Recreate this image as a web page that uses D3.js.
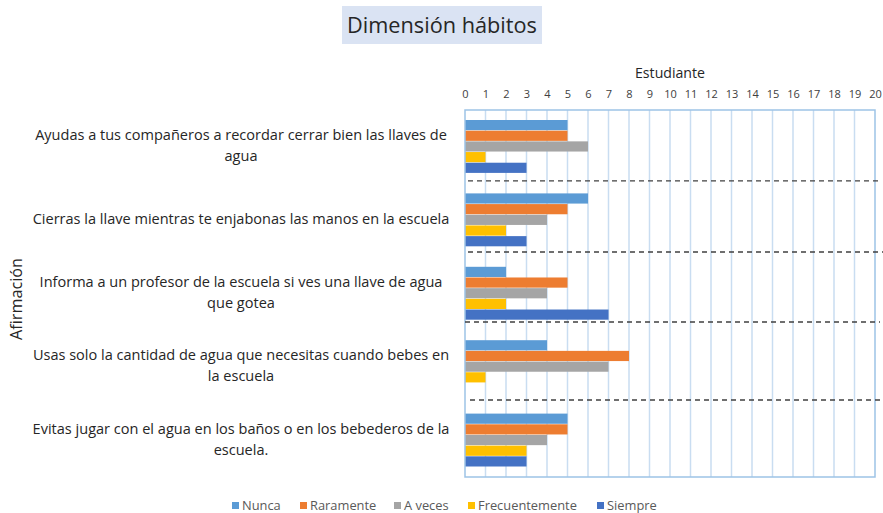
<!DOCTYPE html>
<html><head><meta charset="utf-8">
<script src="https://cdn.jsdelivr.net/npm/d3@7"></script>
<style>
body{margin:0;background:#fff;}
svg{display:block;font-family:"Open Sans", sans-serif;}
</style></head>
<body><svg id="c" width="883" height="513"></svg>
<script>
const categories = [
  "Ayudas a tus compañeros a recordar cerrar bien las llaves de agua",
  "Cierras la llave mientras te enjabonas las manos en la escuela",
  "Informa a un profesor de la escuela si ves una llave de agua que gotea",
  "Usas solo la cantidad de agua que necesitas cuando bebes en la escuela",
  "Evitas jugar con el agua en los baños o en los bebederos de la escuela."
];
const categoryLines = [
  ["Ayudas a tus compañeros a recordar cerrar bien las llaves de", "agua"],
  ["Cierras la llave mientras te enjabonas las manos en la escuela"],
  ["Informa a un profesor de la escuela si ves una llave de agua", "que gotea"],
  ["Usas solo la cantidad de agua que necesitas cuando bebes en", "la escuela"],
  ["Evitas jugar con el agua en los baños o en los bebederos de la", "escuela."]
];
const series = ["Nunca", "Raramente", "A veces", "Frecuentemente", "Siempre"];
const nunca = [5, 6, 2, 4, 5];
const raramente = [5, 5, 5, 8, 5];
const aVeces = [6, 4, 4, 7, 4];
const frecuentemente = [1, 2, 2, 1, 3];
const siempre = [3, 3, 7, 0, 3];
const xTicks = d3.range(0, 21);
const colors = ["#5b9bd5", "#ed7d31", "#a5a5a5", "#ffc000", "#4472c4"];
const title = "Dimensión hábitos";
const xTitle = "Estudiante";
const yTitle = "Afirmación";

const values = [nunca, raramente, aVeces, frecuentemente, siempre];

const svg = d3.select("#c");
const L = 465, R = 875, T = 110, B = 477;
const x = d3.scaleLinear().domain([0, 20]).range([L, R]);
const y0 = d3.scaleBand().domain(categories).range([T, B]);
const bw = y0.bandwidth();
const y1 = d3.scaleBand().domain(series).range([10, bw - 10]);
const color = d3.scaleOrdinal().domain(series).range(colors);

function fit(sel, target) {
  sel.each(function() {
    const w = this.getComputedTextLength();
    if (w > 0) {
      const fs = parseFloat(d3.select(this).attr("font-size"));
      d3.select(this).attr("font-size", (fs * target / w).toFixed(2));
    }
  });
}

// title
const tg = svg.append("g");
tg.append("rect").attr("x", 342).attr("y", 6).attr("width", 200).attr("height", 38).attr("fill", "#dae3f3");
const tt = tg.append("text").attr("x", 442).attr("y", 33).attr("text-anchor", "middle")
  .attr("font-size", 21).attr("fill", "#262626").text(title);
fit(tt, 190);

// gridlines
svg.append("g").selectAll("line").data(xTicks.slice(1, -1)).join("line")
  .attr("x1", d => x(d)).attr("x2", d => x(d)).attr("y1", T).attr("y2", B)
  .attr("stroke", "#c9ddf1").attr("stroke-width", 1.5);

// bars
const cg = svg.append("g").selectAll("g").data(categories).join("g")
  .attr("transform", d => `translate(0,${y0(d)})`);
cg.selectAll("rect").data((d, i) => series.map((s, j) => ({s, v: values[j][i]})))
  .join("rect")
  .attr("x", x(0)).attr("y", d => y1(d.s)).attr("height", y1.bandwidth() - 0.5)
  .attr("width", d => x(d.v) - x(0))
  .attr("fill", d => color(d.s));

// plot border
svg.append("rect").attr("x", L).attr("y", T).attr("width", R - L).attr("height", B - T)
  .attr("fill", "none").attr("stroke", "#9dc3e6").attr("stroke-width", 1.5);

// dashed separators (hand-drawn in original, slightly above band boundaries)
const sepShift = [-2.5, -4.8, -8.2, -3.6];
const sepX = [[468, 880], [468, 883], [465, 880], [470, 880]];
svg.append("g").selectAll("line").data(categories.slice(0, -1)).join("line")
  .attr("x1", (d, i) => sepX[i][0]).attr("x2", (d, i) => sepX[i][1])
  .attr("y1", (d, i) => y0(d) + bw + sepShift[i]).attr("y2", (d, i) => y0(d) + bw + sepShift[i])
  .attr("stroke", "#404040").attr("stroke-width", 1.3).attr("stroke-dasharray", "5,4");

// top axis
const ax = svg.append("g").attr("transform", `translate(0,${T - 12})`)
  .call(d3.axisTop(x).tickValues(xTicks).tickSize(0).tickPadding(0));
ax.select(".domain").remove();
ax.selectAll("text").attr("font-size", 11).attr("fill", "#404040").attr("font-family", "Open Sans, sans-serif");

const xt = svg.append("text").attr("x", (L + R) / 2).attr("y", 78).attr("text-anchor", "middle")
  .attr("font-size", 13).attr("fill", "#262626").text(xTitle);
fit(xt, 70);

// category labels
const lg = svg.append("g").selectAll("text").data(categories).join("text")
  .attr("text-anchor", "middle").attr("font-size", 13.5).attr("fill", "#262626");
lg.each(function(d, i) {
  const lines = categoryLines[i];
  const cy = y0(d) + bw / 2 - 1;
  const n = lines.length;
  d3.select(this).selectAll("tspan").data(lines).join("tspan")
    .attr("x", 241).attr("y", (t, k) => cy + (k - (n - 1) / 2) * 21 + 5).text(t => t);
});
const ref = lg.filter((d, i) => i === 1).node().getComputedTextLength();
if (ref > 0) lg.attr("font-size", (13.5 * 417 / ref).toFixed(2));

// y title
const yt = svg.append("text").attr("transform", "translate(22,299) rotate(-90)")
  .attr("text-anchor", "middle").attr("font-size", 15).attr("fill", "#262626").text(yTitle);
fit(yt, 82);

// legend
const legX = [232, 300, 394, 468, 597];
const leg = svg.append("g").selectAll("g").data(series).join("g")
  .attr("transform", (d, i) => `translate(${legX[i]},502)`);
leg.append("rect").attr("width", 7).attr("height", 7).attr("fill", d => color(d));
const lt = leg.append("text").attr("x", 10).attr("y", 8).attr("font-size", 11).attr("fill", "#595959").text(d => d);
const fw = lt.filter(d => d === "Frecuentemente").node().getComputedTextLength();
if (fw > 0) lt.attr("font-size", (11 * 99 / fw).toFixed(2));
</script></body></html>
